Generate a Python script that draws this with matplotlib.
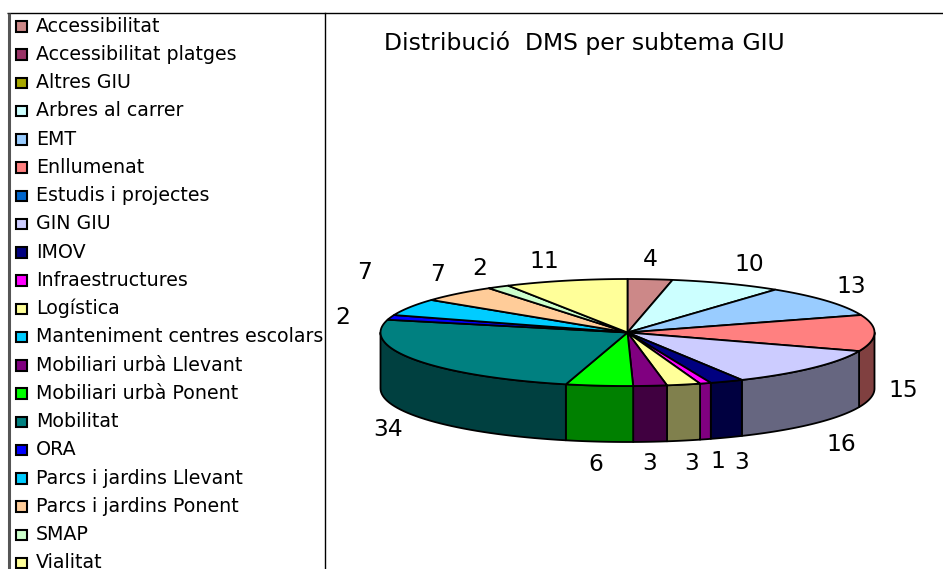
import numpy as np
import matplotlib
matplotlib.use("Agg")
import matplotlib.pyplot as plt
from matplotlib.patches import Polygon, Rectangle

plt.rcParams['font.family'] = ['DejaVu Sans']

# legend, in order
legend_names = ["Accessibilitat", "Accessibilitat platges", "Altres GIU", "Arbres al carrer",
                "EMT", "Enllumenat", "Estudis i projectes", "GIN GIU", "IMOV",
                "Infraestructures", "Logística", "Manteniment centres escolars",
                "Mobiliari urbà Llevant", "Mobiliari urbà Ponent", "Mobilitat", "ORA",
                "Parcs i jardins Llevant", "Parcs i jardins Ponent", "SMAP", "Vialitat"]
legend_colors = ["#cc8888", "#993366", "#a8a800", "#ccffff", "#99ccff", "#ff8080", "#0066cc",
                 "#ccccff", "#000080", "#ff00ff", "#ffff99", "#00ccff", "#800080", "#00ff00",
                 "#008080", "#0000ff", "#00ccff", "#ffcc99", "#ccffcc", "#ffff99"]

# slices clockwise from 12 o'clock
values = [4, 0, 0, 10, 13, 15, 0, 16, 3, 1, 3, 3, 6, 34, 2, 7, 7, 2, 11]
slice_colors = ["#cc8888", "#993366", "#a8a800", "#ccffff", "#99ccff", "#ff8080", "#0066cc",
                "#ccccff", "#000080", "#ff00ff", "#ffff99", "#800080", "#00ff00", "#008080",
                "#0000ff", "#00ccff", "#ffcc99", "#ccffcc", "#ffff99"]

title = "Distribució  DMS per subtema GIU"
label_text = ["4", "10", "13", "15", "16", "3", "1", "3", "3", "6", "34", "2", "7", "7", "2", "11"]
label_x = [650, 749, 851, 903, 841, 742, 718, 692, 650, 596, 388, 343, 365, 438, 480, 544]
label_y = [259, 264, 286, 390, 444, 462, 461, 463, 463, 464, 429, 317, 272, 274, 268, 261]

cx, cy = 627.5, 332.5
a, b = 247, 53.5
depth = 56


def top_pt(t):
    return cx + a * np.sin(t), cy - b * np.cos(t)


def darker(c):
    r, g, bl = matplotlib.colors.to_rgb(c)
    return (r * 0.5, g * 0.5, bl * 0.5)


fig = plt.figure(figsize=(9.43, 5.69), dpi=100)
ax = fig.add_axes([0, 0, 1, 1])
ax.set_xlim(0, 943)
ax.set_ylim(569, 0)
ax.axis("off")

# outer frame and legend box
ax.plot([7, 943], [12.5, 12.5], color="black", lw=1, solid_capstyle="butt")
ax.plot([324.5, 324.5], [12.5, 569], color="black", lw=1)
ax.plot([8.5, 8.5], [12.5, 569], color="#555555", lw=2.2, solid_capstyle="butt")

for i, (n, c) in enumerate(zip(legend_names, legend_colors)):
    y = 25 + i * 28.25
    ax.add_patch(Rectangle((15.5, y - 4), 11, 10.5, fc=c, ec="black", lw=1.5))
    ax.text(36, y + 6.5, n, fontsize=13.7, va="baseline", ha="left")

ax.text(384, 49.5, title, fontsize=16.9, va="baseline", ha="left")

# the pie
edges = np.cumsum([0] + values) / sum(values) * 2 * np.pi
# front wall pieces
for i, c in enumerate(slice_colors):
    t0, t1 = edges[i], edges[i + 1]
    if t1 <= t0:
        continue
    lo, hi = max(t0, np.pi / 2), min(t1, 3 * np.pi / 2)
    if hi <= lo:
        continue
    ts = np.linspace(lo, hi, 40)
    xs, ys = top_pt(ts)
    pts = list(zip(xs, ys)) + list(zip(xs[::-1], ys[::-1] + depth))
    ax.add_patch(Polygon(pts, closed=True, fc=darker(c), ec="black", lw=1.3, joinstyle="round"))

# top faces
for i, c in enumerate(slice_colors):
    t0, t1 = edges[i], edges[i + 1]
    if t1 <= t0:
        continue
    ts = np.linspace(t0, t1, 60)
    xs, ys = top_pt(ts)
    pts = [(cx, cy)] + list(zip(xs, ys))
    ax.add_patch(Polygon(pts, closed=True, fc=c, ec="black", lw=1.3, joinstyle="round"))

for s, x, y in zip(label_text, label_x, label_y):
    ax.text(x, y, s, fontsize=16.8, va="center", ha="center")

fig.savefig("out.png", dpi=100)
